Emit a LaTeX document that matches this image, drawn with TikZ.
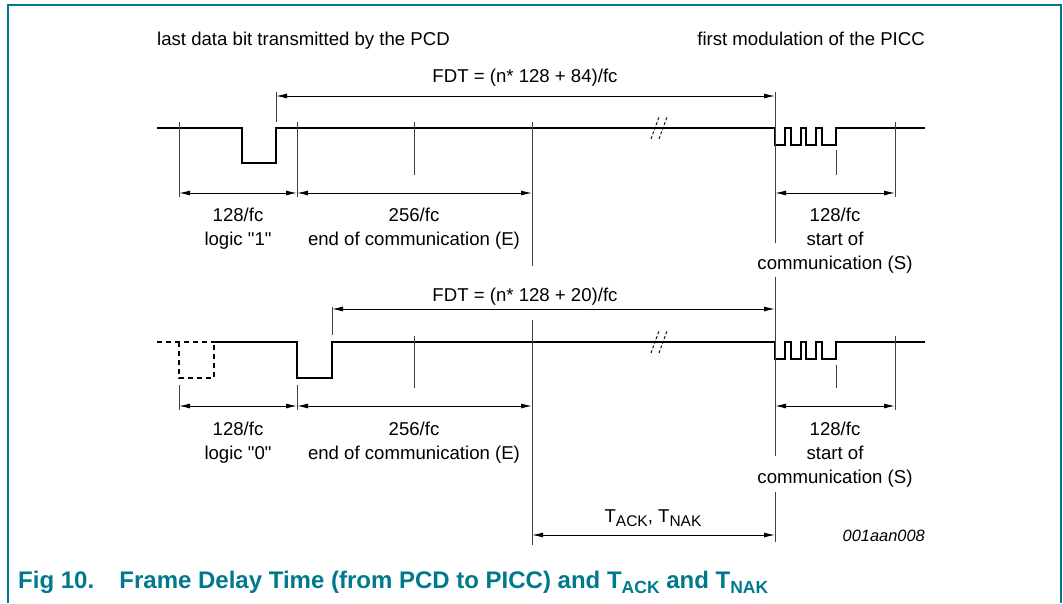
\documentclass[tikz,border=0pt]{standalone}
\usepackage{fontspec}
\setmainfont{Liberation Sans}[Ligatures=TeXOff]
\usetikzlibrary{arrows.meta}
\definecolor{nxpteal}{RGB}{0,121,140}
\begin{document}
\begin{tikzpicture}[x=1pt,y=-1pt,
  wave/.style={line width=2.8pt, line join=miter},
  dwave/.style={wave, dash pattern=on 5pt off 4pt},
  tick/.style={line width=1pt, draw=black!75},
  dim/.style={line width=1pt, {Latex[length=11pt,width=5pt]}-{Latex[length=11pt,width=5pt]}},
  brk/.style={line width=0.9pt, dash pattern=on 3pt off 2pt},
  lbl/.style={font=\fontsize{18.6}{24}\selectfont, inner sep=0pt, align=center, anchor=base},
  frame/.style={line width=2pt, draw=nxpteal}]
\useasboundingbox (0,0) rectangle (1063,603);
% frame
\draw[frame] (7.5,603) -- (7.5,4.5) -- (1060.5,4.5) -- (1060.5,603);
% headers
\node[lbl, anchor=base west] (hl) at (157,45) {last data bit transmitted by the PCD};
\node[lbl, anchor=base east] (hr) at (925,45) {first modulation of the PICC};
% ---------- top row ----------
\draw[wave] (157,128) -- (242,128) -- (242,163) -- (276,163) -- (276,128) -- (775,128)
  -- (775,145) -- (785,145) -- (785,128) -- (791,128) -- (791,145) -- (801,145) -- (801,128)
  -- (806,128) -- (806,145) -- (816,145) -- (816,128) -- (822,128) -- (822,145) -- (836,145)
  -- (836,128) -- (925,128);
\draw[brk] (651,139) -- (659,117) (659,139) -- (667,117);
% ticks
\draw[tick] (179,122) -- (179,197);
\draw[tick] (276,92) -- (276,122);
\draw[tick] (297,122) -- (297,197);
\draw[tick] (414,122) -- (414,175);
\draw[tick] (532,122) -- (532,266);
\draw[tick] (775,92) -- (775,243);
\draw[tick] (836,150) -- (836,175);
\draw[tick] (895,122) -- (895,197);
% dims
\coordinate (fa1) at (276,96); \coordinate (fa2) at (775,96);
\coordinate (a1) at (179,193); \coordinate (a2) at (297,193);
\coordinate (a3) at (532,193); \coordinate (a4) at (775,193); \coordinate (a5) at (895,193);
\draw[dim] (fa1) -- (fa2);
\draw[dim] (a1) -- (a2);
\draw[dim] (a2) -- (a3);
\draw[dim] (a4) -- (a5);
\node[lbl] (fdt1) at (525,82) {FDT = (n* 128 + 84)/fc};
\node[lbl] (l1) at (238,245) {128/fc\\logic "1"};
\node[lbl] (e1) at (414,245) {256/fc\\end of communication (E)};
\node[lbl] (s1) at (835,269) {128/fc\\start of\\communication (S)};
% ---------- bottom row ----------
\draw[dwave] (157,342) -- (214,342);
\draw[dwave] (179,342) -- (179,378) -- (214,378) -- (214,342);
\draw[wave] (214,342) -- (297,342) -- (297,378) -- (332,378) -- (332,342) -- (775,342)
  -- (775,359) -- (785,359) -- (785,342) -- (791,342) -- (791,359) -- (801,359) -- (801,342)
  -- (806,342) -- (806,359) -- (816,359) -- (816,342) -- (822,342) -- (822,359) -- (836,359)
  -- (836,342) -- (925,342);
\draw[brk] (651,353) -- (659,331) (659,353) -- (667,331);
\draw[tick] (179,385) -- (179,410);
\draw[tick] (297,385) -- (297,410);
\draw[tick] (332,307) -- (332,335);
\draw[tick] (414,336) -- (414,388);
\draw[tick] (532,320) -- (532,545);
\draw[tick] (775,277) -- (775,456);
\draw[tick] (775,492) -- (775,542);
\draw[tick] (836,365) -- (836,388);
\draw[tick] (895,336) -- (895,410);
\coordinate (fb1) at (332,309); \coordinate (fb2) at (775,309);
\coordinate (b1) at (179,406); \coordinate (b2) at (297,406);
\coordinate (b3) at (532,406); \coordinate (b4) at (775,406); \coordinate (b5) at (895,406);
\draw[dim] (fb1) -- (fb2);
\draw[dim] (b1) -- (b2);
\draw[dim] (b2) -- (b3);
\draw[dim] (b4) -- (b5);
\node[lbl] (fdt2) at (525,301) {FDT = (n* 128 + 20)/fc};
\node[lbl] (l0) at (238,459) {128/fc\\logic "0"};
\node[lbl] (e2) at (414,459) {256/fc\\end of communication (E)};
\node[lbl] (s2) at (835,483) {128/fc\\start of\\communication (S)};
% T_ACK
\coordinate (k1) at (532,535); \coordinate (k2) at (775,535);
\draw[dim] (k1) -- (k2);
\node[lbl] (tack) at (653,522) {T\raisebox{-4pt}{\fontsize{15.5}{15.5}\selectfont ACK}, T\raisebox{-4pt}{\fontsize{15.5}{15.5}\selectfont NAK}};
\node[lbl, anchor=base east, font=\fontsize{16.4}{20}\selectfont\itshape] (id) at (925,541) {001aan008};
% caption
\node[lbl, anchor=base west, font=\fontsize{24}{26}\selectfont\bfseries, text=nxpteal] (cap) at (18,588)
  {Fig 10.\hspace{1.05em}Frame Delay Time (from PCD to PICC) and T\raisebox{-5.5pt}{\fontsize{17.5}{17.5}\selectfont\bfseries ACK} and T\raisebox{-5.5pt}{\fontsize{17.5}{17.5}\selectfont\bfseries NAK}};
\end{tikzpicture}
\end{document}
